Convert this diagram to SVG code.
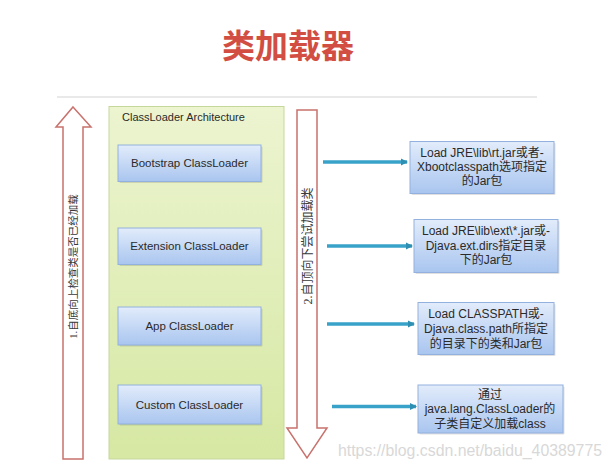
<svg xmlns="http://www.w3.org/2000/svg" width="612" height="468" viewBox="0 0 612 468">
  <defs>
    <linearGradient id="gBlue" x1="0" y1="0" x2="0" y2="1">
      <stop offset="0" stop-color="#e2ecfb"/>
      <stop offset="1" stop-color="#a9c5ef"/>
    </linearGradient>
    <linearGradient id="gGreen" x1="0" y1="0" x2="0" y2="1">
      <stop offset="0" stop-color="#ecf4d0"/>
      <stop offset="1" stop-color="#d6e8a3"/>
    </linearGradient>
    <marker id="ah" markerWidth="8" markerHeight="8" refX="6" refY="4" orient="auto" markerUnits="userSpaceOnUse">
      <path d="M0,0.5 L7,4 L0,7.5 Z" fill="#2f8fb3"/>
    </marker>
    <style>
      .title{font-family:"Noto Sans CJK SC","Liberation Sans",sans-serif;font-size:33px;font-weight:bold;fill:#d24e42}
      .box{fill:url(#gBlue);stroke:#93b1de;stroke-width:1}
      .shadow{fill:#000;opacity:0.12}
      .lbl{font-family:"Liberation Sans","Noto Sans CJK SC",sans-serif;font-size:11.5px;fill:#2a2a2a;text-anchor:middle}
      .note{font-family:"Liberation Sans","Noto Sans CJK SC",sans-serif;font-size:12px;fill:#2a2a2a;text-anchor:middle}
      .red{fill:#ffffff;stroke:#c9726d;stroke-width:1.5;stroke-linejoin:miter}
      .vt{font-family:"Liberation Serif","Noto Sans CJK SC",serif;fill:#3a3a3a;text-anchor:middle}
      .conn{stroke:#39a2c8;stroke-width:3.5;fill:none}
      .wm{font-family:"Liberation Sans",sans-serif;font-size:16px;fill:#d8d8d8}
    </style>
  </defs>

  <rect width="612" height="468" fill="#ffffff"/>

  <text class="title" x="288" y="58" text-anchor="middle">类加载器</text>
  <line x1="57" y1="97" x2="537" y2="97" stroke="#e2e2e2" stroke-width="1.5"/>

  <g id="arrow-up">
    <polygon class="red" points="73,107 91,127 83,127 83,459 63,459 63,127 56,127"/>
    <text class="vt" font-size="10.5" transform="translate(77,266.5) rotate(-90)">1.自底向上检查类是否已经加载</text>
  </g>

  <g id="arrow-down">
    <polygon class="red" points="297,110 317,110 317,428 327,428 307,458 287,428 297,428"/>
    <text class="vt" font-size="12" transform="translate(311.5,246) rotate(-90)">2.自顶向下尝试加载类</text>
  </g>

  <g id="architecture">
    <rect x="109" y="106.5" width="175" height="352.5" fill="url(#gGreen)" stroke="#c6d79c" stroke-width="1"/>
    <text x="122" y="121" font-family="Liberation Sans, sans-serif" font-size="11" fill="#2a2a2a">ClassLoader Architecture</text>
  </g>

  <g id="bootstrap">
    <rect class="shadow" x="119.5" y="146.5" width="143" height="36.5" rx="1"/>
    <rect class="box" x="118" y="145" width="143" height="36.5"/>
    <text class="lbl" x="189.5" y="167">Bootstrap ClassLoader</text>
  </g>
  <g id="extension">
    <rect class="shadow" x="119.5" y="229.5" width="143" height="36.5" rx="1"/>
    <rect class="box" x="118" y="228" width="143" height="36.5"/>
    <text class="lbl" x="189.5" y="250">Extension ClassLoader</text>
  </g>
  <g id="app">
    <rect class="shadow" x="119.5" y="308.5" width="143" height="38" rx="1"/>
    <rect class="box" x="118" y="307" width="143" height="38"/>
    <text class="lbl" x="189.5" y="330">App ClassLoader</text>
  </g>
  <g id="custom">
    <rect class="shadow" x="119.5" y="386.5" width="143" height="39" rx="1"/>
    <rect class="box" x="118" y="385" width="143" height="39"/>
    <text class="lbl" x="189.5" y="408.5">Custom ClassLoader</text>
  </g>

  <g id="note-bootstrap">
    <rect class="shadow" x="411.5" y="143" width="144" height="52" rx="1"/>
    <rect class="box" x="410" y="141.5" width="144" height="52"/>
    <text class="note" x="482" y="157">Load JRE\lib\rt.jar或者-</text>
    <text class="note" x="482" y="171">Xbootclasspath选项指定</text>
    <text class="note" x="482" y="185">的Jar包</text>
  </g>
  <g id="note-extension">
    <rect class="shadow" x="415.5" y="221" width="144" height="53" rx="1"/>
    <rect class="box" x="414" y="219.5" width="144" height="53"/>
    <text class="note" x="486" y="235">Load JRE\lib\ext\*.jar或-</text>
    <text class="note" x="486" y="249.5">Djava.ext.dirs指定目录</text>
    <text class="note" x="486" y="264">下的Jar包</text>
  </g>
  <g id="note-app">
    <rect class="shadow" x="419.5" y="304" width="136" height="52" rx="1"/>
    <rect class="box" x="418" y="302.5" width="136" height="52"/>
    <text class="note" x="486" y="318">Load CLASSPATH或-</text>
    <text class="note" x="486" y="333">Djava.class.path所指定</text>
    <text class="note" x="486" y="348">的目录下的类和Jar包</text>
  </g>
  <g id="note-custom">
    <rect class="shadow" x="419.5" y="386.5" width="145" height="48" rx="1"/>
    <rect class="box" x="418" y="385" width="145" height="48"/>
    <text class="note" x="490" y="399">通过</text>
    <text class="note" x="490" y="413">java.lang.ClassLoader的</text>
    <text class="note" x="490" y="428">子类自定义加载class</text>
  </g>

  <g id="connectors">
    <line class="conn" x1="323" y1="162" x2="407" y2="162" marker-end="url(#ah)"/>
    <line class="conn" x1="327" y1="246" x2="412" y2="246" marker-end="url(#ah)"/>
    <line class="conn" x1="327" y1="324" x2="414" y2="324" marker-end="url(#ah)"/>
    <line class="conn" x1="332" y1="406.5" x2="416" y2="406.5" marker-end="url(#ah)"/>
  </g>

  <text class="wm" x="338" y="456" textLength="264" lengthAdjust="spacingAndGlyphs">https://blog.csdn.net/baidu_40389775</text>
</svg>
